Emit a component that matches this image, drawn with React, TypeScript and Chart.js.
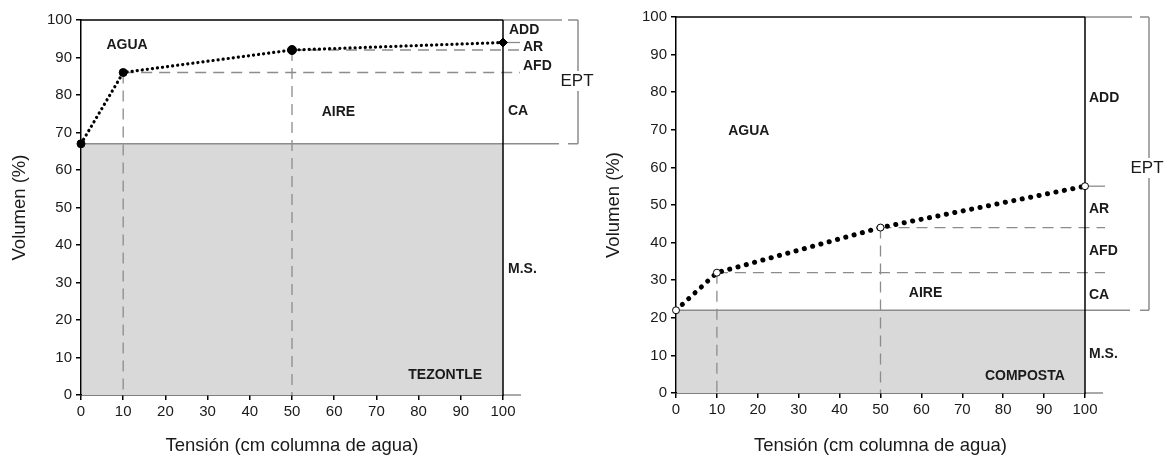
import React, { useEffect, useRef } from "react";
import { Chart, registerables } from "chart.js";
Chart.register(...registerables);

// ---- data ----
const tensionTicks = [0, 10, 20, 30, 40, 50, 60, 70, 80, 90, 100];
const volumenTicks = [0, 10, 20, 30, 40, 50, 60, 70, 80, 90, 100];

const tezTension = [0, 10, 50, 100];
const tezVolumen = [67, 86, 92, 94];
const tezSolidos = 67;

const compTension = [0, 10, 50, 100];
const compVolumen = [22, 32, 44, 55];
const compSolidos = 22;

const sideLabels = ["ADD", "AR", "AFD", "CA", "M.S."];
const tezSideLabelY = [97.3, 92.8, 87.7, 75.7, 33.6];
const compSideLabelY = [78.5, 49, 37.8, 26, 10.4];

const FONT = "'Liberation Sans', Arial, sans-serif";
const GRAY = "#8c8c8c";

type PanelCfg = {
  tension: number[];
  volumen: number[];
  solidos: number;
  name: string;
  width: number;
  yAxisW: number;
  xAxisH: number;
  padTop: number;
  padRight: number;
  yTitlePad: number;
  xTitlePad: number;
  ext: number;
  topEnd: number;
  bottomEnd: number;
  tickStart: number;
  bracketX: number;
  eptX: number;
  eptY: number;
  sideX: number[];
  sideY: number[];
  agua: [number, number];
  aire: [number, number];
  nameAt: [number, number];
  lineWidth: number;
  dash: number[];
  pointStyle: string[];
  pointRadius: number[];
  pointBg: string;
};

const tezCfg: PanelCfg = {
  tension: tezTension,
  volumen: tezVolumen,
  solidos: tezSolidos,
  name: "TEZONTLE",
  width: 600,
  yAxisW: 81,
  xAxisH: 62,
  padTop: 20,
  padRight: 97,
  yTitlePad: 9,
  xTitlePad: 0,
  ext: 17,
  topEnd: 59,
  bottomEnd: 56,
  tickStart: 65,
  bracketX: 75,
  eptX: 74,
  eptY: 81,
  sideX: [6, 20, 20, 5, 5],
  sideY: tezSideLabelY,
  agua: [10.9, 93.3],
  aire: [61, 75.5],
  nameAt: [86.3, 5.3],
  lineWidth: 3.2,
  dash: [0.1, 5],
  pointStyle: ["circle", "circle", "circle", "rectRot"],
  pointRadius: [4, 4, 4.5, 4.5],
  pointBg: "#000",
};

const compCfg: PanelCfg = {
  tension: compTension,
  volumen: compVolumen,
  solidos: compSolidos,
  name: "COMPOSTA",
  width: 566,
  yAxisW: 76,
  xAxisH: 64,
  padTop: 17,
  padRight: 81,
  yTitlePad: 3,
  xTitlePad: 3,
  ext: 20,
  topEnd: 47,
  bottomEnd: 45,
  tickStart: 55,
  bracketX: 64,
  eptX: 62,
  eptY: 168,
  sideX: [4, 4, 4, 4, 4],
  sideY: compSideLabelY,
  agua: [17.8, 69.7],
  aire: [61, 26.6],
  nameAt: [85.3, 4.5],
  lineWidth: 5,
  dash: [0.1, 8.5],
  pointStyle: ["circle", "circle", "circle", "circle"],
  pointRadius: [3.5, 3.5, 3.5, 3.5],
  pointBg: "#fff",
};

function seg(ctx: CanvasRenderingContext2D, x1: number, y1: number, x2: number, y2: number, color: string, w: number, dash: number[] = []) {
  ctx.save();
  ctx.strokeStyle = color;
  ctx.lineWidth = w;
  ctx.setLineDash(dash);
  ctx.beginPath();
  ctx.moveTo(x1, y1);
  ctx.lineTo(x2, y2);
  ctx.stroke();
  ctx.restore();
}

function panelPlugin(cfg: PanelCfg) {
  return {
    id: "panel" + cfg.name,
    beforeDatasetsDraw(chart: any) {
      const { ctx, chartArea: a, scales } = chart;
      const px = (v: number) => scales.x.getPixelForValue(v);
      const py = (v: number) => scales.y.getPixelForValue(v);
      const t = cfg.tension, v = cfg.volumen;
      ctx.save();
      // solid matter fill
      ctx.fillStyle = "#d9d9d9";
      ctx.fillRect(a.left + 1, py(cfg.solidos), a.right - a.left - 1, py(0) - py(cfg.solidos));
      // solids boundary line
      seg(ctx, a.left, py(cfg.solidos), a.right + cfg.bottomEnd, py(cfg.solidos), GRAY, 1.5);
      // dashed levels
      const dash = [11, 7];
      seg(ctx, px(t[1]), py(v[1]), a.right + cfg.ext, py(v[1]), GRAY, 1.3, dash);
      seg(ctx, px(t[2]), py(v[2]), a.right + cfg.ext, py(v[2]), GRAY, 1.3, dash);
      seg(ctx, a.right, py(v[3]), a.right + cfg.ext, py(v[3]), GRAY, 1.3);
      seg(ctx, px(t[1]), py(v[1]), px(t[1]), py(0), GRAY, 1.3, dash);
      seg(ctx, px(t[2]), py(v[2]), px(t[2]), py(0), GRAY, 1.3, dash);
      // top extension and bracket
      seg(ctx, a.right, py(100), a.right + cfg.topEnd, py(100), GRAY, 1.5);
      seg(ctx, a.right + cfg.tickStart, py(100), a.right + cfg.bracketX, py(100), GRAY, 1.5);
      seg(ctx, a.right + cfg.tickStart, py(cfg.solidos), a.right + cfg.bracketX, py(cfg.solidos), GRAY, 1.5);
      seg(ctx, a.right + cfg.bracketX, py(100), a.right + cfg.bracketX, cfg.eptY - 10, GRAY, 1.5);
      seg(ctx, a.right + cfg.bracketX, cfg.eptY + 10, a.right + cfg.bracketX, py(cfg.solidos), GRAY, 1.5);
      // x axis extension
      seg(ctx, a.right, py(0), a.right + 18, py(0), GRAY, 1.5);
      // frame
      seg(ctx, a.left, py(100), a.right, py(100), "#000", 1.5);
      seg(ctx, a.right, py(100), a.right, py(0) + 1, "#000", 1.5);
      ctx.restore();
    },
    afterDraw(chart: any) {
      const { ctx, chartArea: a, scales } = chart;
      const px = (v: number) => scales.x.getPixelForValue(v);
      const py = (v: number) => scales.y.getPixelForValue(v);
      ctx.save();
      ctx.fillStyle = "#1a1a1a";
      ctx.textBaseline = "middle";
      ctx.font = `bold 14px ${FONT}`;
      ctx.textAlign = "center";
      ctx.fillText("AGUA", px(cfg.agua[0]), py(cfg.agua[1]));
      ctx.fillText("AIRE", px(cfg.aire[0]), py(cfg.aire[1]));
      ctx.fillText(cfg.name, px(cfg.nameAt[0]), py(cfg.nameAt[1]));
      ctx.textAlign = "left";
      sideLabels.forEach((s, i) => {
        ctx.fillText(s, a.right + cfg.sideX[i], py(cfg.sideY[i]));
      });
      ctx.font = `17px ${FONT}`;
      ctx.textAlign = "center";
      ctx.fillText("EPT", a.right + cfg.eptX, cfg.eptY);
      ctx.restore();
    },
  };
}

function makeChart(canvas: HTMLCanvasElement, cfg: PanelCfg) {
  const tickFont = { family: FONT, size: 15 };
  const titleFont = { family: FONT, size: 18.5 };
  return new Chart(canvas, {
    type: "line",
    data: {
      datasets: [
        {
          data: cfg.tension.map((x, i) => ({ x, y: cfg.volumen[i] })),
          borderColor: "#000",
          borderWidth: cfg.lineWidth,
          borderDash: cfg.dash,
          borderCapStyle: "round",
          pointStyle: cfg.pointStyle as any,
          pointRadius: cfg.pointRadius,
          pointBackgroundColor: cfg.pointBg,
          pointBorderColor: "#000",
          pointBorderWidth: 1,
          tension: 0,
          fill: false,
          clip: false,
        } as any,
      ],
    },
    options: {
      animation: false,
      responsive: false,
      maintainAspectRatio: false,
      layout: { padding: { top: cfg.padTop, right: cfg.padRight, left: 0, bottom: 0 } },
      plugins: { legend: { display: false }, tooltip: { enabled: false } },
      scales: {
        x: {
          type: "linear",
          min: 0,
          max: 100,
          afterBuildTicks: (s: any) => {
            s.ticks = tensionTicks.map((value) => ({ value }));
          },
          afterFit: (s: any) => {
            s.height = cfg.xAxisH;
          },
          ticks: { color: "#1a1a1a", font: tickFont, padding: 3, maxRotation: 0, autoSkip: false },
          grid: { drawOnChartArea: false, drawTicks: true, tickLength: 5, color: "#000", lineWidth: 1.5 },
          border: { color: "#000", width: 1.5 },
          title: { display: true, text: "Tensión (cm columna de agua)", font: titleFont, color: "#1a1a1a", padding: { top: cfg.xTitlePad, bottom: 0 } },
        },
        y: {
          type: "linear",
          min: 0,
          max: 100,
          afterBuildTicks: (s: any) => {
            s.ticks = volumenTicks.map((value) => ({ value }));
          },
          afterFit: (s: any) => {
            s.width = cfg.yAxisW;
          },
          ticks: { color: "#1a1a1a", font: tickFont, padding: 4, autoSkip: false },
          grid: { drawOnChartArea: false, drawTicks: true, tickLength: 5, color: "#000", lineWidth: 1.5 },
          border: { color: "#000", width: 1.5 },
          title: { display: true, text: "Volumen (%)", font: titleFont, color: "#1a1a1a", padding: { top: cfg.yTitlePad, bottom: 0 } },
        },
      },
    } as any,
    plugins: [panelPlugin(cfg)],
  });
}

function Panel({ cfg, left }: { cfg: PanelCfg; left: number }) {
  const ref = useRef<HTMLCanvasElement | null>(null);
  useEffect(() => {
    if (!ref.current) return;
    const chart = makeChart(ref.current, cfg);
    return () => chart.destroy();
  }, [cfg]);
  return (
    <canvas
      ref={ref}
      width={cfg.width}
      height={457}
      style={{ position: "absolute", left, top: 0, width: cfg.width, height: 457 }}
    />
  );
}

export default function App() {
  return (
    <div style={{ position: "absolute", left: 0, top: 0, width: 1166, height: 457, background: "#fff", overflow: "hidden" }}>
      <Panel cfg={tezCfg} left={0} />
      <Panel cfg={compCfg} left={600} />
    </div>
  );
}
